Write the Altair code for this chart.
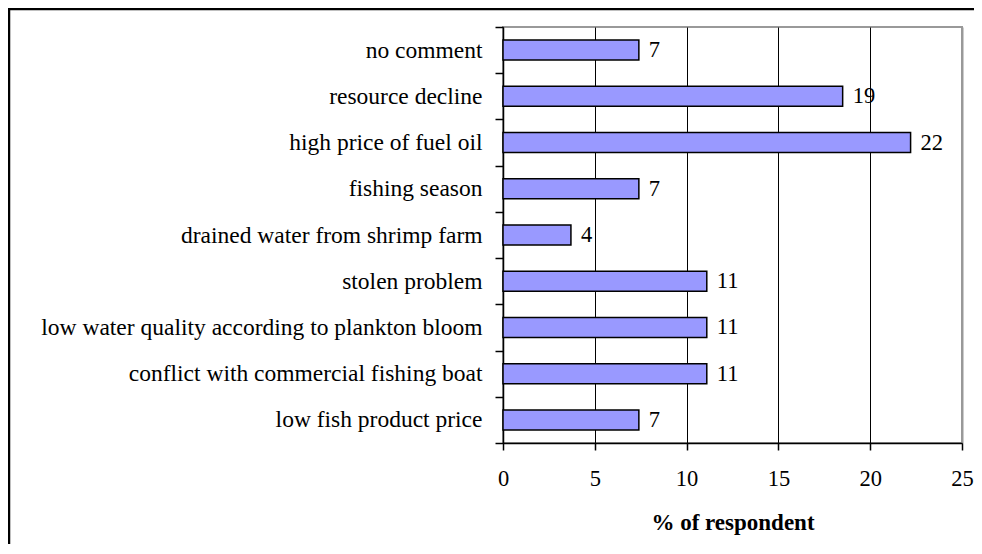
import altair as alt
import pandas as pd

categories = [
    "no comment",
    "resource decline",
    "high price of fuel oil",
    "fishing season",
    "drained water from shrimp farm",
    "stolen problem",
    "low water quality according to plankton bloom",
    "conflict with commercial fishing boat",
    "low fish product price",
]
values = [7.4, 18.5, 22.2, 7.4, 3.7, 11.1, 11.1, 11.1, 7.4]
labels = ["7", "19", "22", "7", "4", "11", "11", "11", "7"]
x_ticks = [0, 5, 10, 15, 20, 25]

df = pd.DataFrame({"cat": categories, "val": values, "lab": labels})

FONT = "Liberation Serif"

y_enc = alt.Y(
    "cat:N",
    sort=categories,
    scale=alt.Scale(paddingInner=0, paddingOuter=0),
    axis=alt.Axis(
        title=None,
        tickBand="extent",
        tickSize=8,
        tickColor="black",
        tickWidth=1.5,
        domainColor="black",
        domainWidth=1.5,
        labelFont=FONT,
        labelFontSize=23.5,
        labelColor="black",
        labelPadding=13,
        labelLimit=600,
        grid=False,
    ),
)

x_enc = alt.X(
    "val:Q",
    scale=alt.Scale(domain=[0, 25], nice=False),
    axis=alt.Axis(
        values=x_ticks,
        title="% of respondent",
        titleFont=FONT,
        titleFontSize=23,
        titleFontWeight="bold",
        titleColor="black",
        titleY=86,
        titleBaseline="alphabetic",
        tickSize=7,
        tickColor="black",
        tickWidth=1.5,
        domainColor="black",
        domainWidth=1.5,
        labelFont=FONT,
        labelFontSize=22.5,
        labelColor="black",
        labelPadding=17,
        labelFlush=False,
        grid=True,
        gridColor={"condition": {"test": "datum.value >= 25", "value": "#999999"}, "value": "#000000"},
        gridWidth={"condition": {"test": "datum.value >= 25", "value": 2}, "value": 1},
    ),
)

bars = alt.Chart(df).mark_bar(
    height=20, color="#9999FF", stroke="black", strokeWidth=1.5
).encode(x=x_enc, y=y_enc)

text = alt.Chart(df).mark_text(
    align="left", baseline="middle", dx=10, font=FONT, fontSize=22.5, color="black"
).encode(x="val:Q", y=alt.Y("cat:N", sort=categories), text="lab:N")

frame_data = alt.Data(values=[{}])
frame_left = alt.Chart(frame_data).mark_rule(color="black", strokeWidth=2.5).encode(
    x=alt.value(-494), y=alt.value(-19), y2=alt.value(600)
)
frame_top = alt.Chart(frame_data).mark_rule(color="black", strokeWidth=2.5).encode(
    x=alt.value(-495), x2=alt.value(600), y=alt.value(-18)
)

chart = alt.layer(frame_left, frame_top, bars, text).properties(
    width=459,
    height=416,
    padding={"left": 495, "top": 19, "right": 12, "bottom": 101},
    autosize=alt.AutoSizeParams(type="none"),
).configure_view(stroke="#999999", strokeWidth=2)

chart.save("out.html", embed_options={"renderer": "svg", "actions": False})
